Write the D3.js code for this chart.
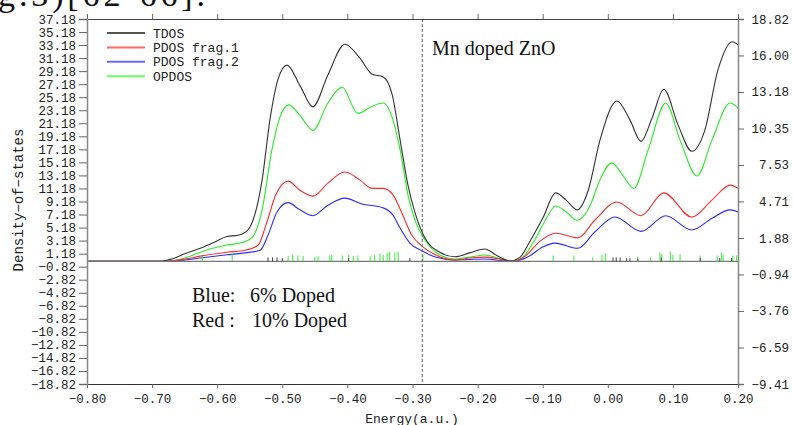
<!DOCTYPE html>
<html lang="en">
<head>
<meta charset="UTF-8">
<title>Mn doped ZnO DOS</title>
<script src="https://d3js.org/d3.v7.min.js"></script>
<style>
  body { margin: 0; padding: 0; background: white; }
  svg { display: block; }
  .tick text { font-family: 'Liberation Mono', monospace; font-size: 12.5px; fill: #222; }
  .mono { font-family: 'Liberation Mono', monospace; fill: #222; }
  .serif { font-family: 'Liberation Serif', 'Times New Roman', serif; fill: #111; }
</style>
</head>
<body>
<div id="chart"></div>
<script>
// x range and tick labels
const energyDomain = [-0.80, 0.20];
const energyTicks = [-0.80, -0.70, -0.60, -0.50, -0.40, -0.30, -0.20, -0.10, 0.00, 0.10, 0.20];
const leftTicks = d3.range(29).map(i => -18.82 + 2 * i);
const rightTicks = [-9.41, -6.59, -3.76, -0.94, 1.88, 4.71, 7.53, 10.35, 13.18, 16.00, 18.82];
const homoLevel = -0.285;

// curves, [energy, density] in left-axis units
const tdos = [[-0.80,0],[-0.688,0],[-0.672,0.3],[-0.649,1.2],[-0.626,2.0],[-0.603,3.0],[-0.585,3.8],[-0.568,4.0],
  [-0.553,4.8],[-0.531,12.5],[-0.519,21.7],[-0.507,27.8],[-0.493,30.1],[-0.473,27.0],[-0.453,23.7],[-0.430,28.6],
  [-0.404,33.3],[-0.381,31.2],[-0.362,28.7],[-0.345,28.3],[-0.331,25.5],[-0.319,18.6],[-0.307,11.7],[-0.295,7.1],
  [-0.281,3.6],[-0.258,1.4],[-0.235,0.7],[-0.212,1.3],[-0.189,1.9],[-0.169,0.8],[-0.150,0.05],[-0.135,0.6],
  [-0.120,3.0],[-0.100,6.6],[-0.080,10.5],[-0.064,9.4],[-0.047,7.9],[-0.030,10.9],[-0.012,18.6],[0.014,24.6],
  [0.034,21.7],[0.051,18.4],[0.068,22.0],[0.086,26.4],[0.108,20.9],[0.129,16.9],[0.149,20.1],[0.169,29.3],
  [0.191,33.7],[0.200,33.2]];
const pdosFrag1 = [[-0.80,0],[-0.680,0],[-0.649,0.35],[-0.626,0.8],[-0.585,1.4],[-0.557,1.7],[-0.537,2.5],
  [-0.525,5.6],[-0.510,10.2],[-0.491,12.3],[-0.473,10.9],[-0.453,10.0],[-0.430,12.0],[-0.404,13.7],[-0.381,12.5],
  [-0.362,11.2],[-0.345,11.2],[-0.330,10.2],[-0.315,7.1],[-0.301,4.0],[-0.285,2.3],[-0.265,1.0],[-0.235,0.2],
  [-0.212,0.5],[-0.189,0.65],[-0.166,0.35],[-0.147,0],[-0.127,0.8],[-0.104,3.1],[-0.080,4.3],[-0.046,3.6],
  [-0.020,6.3],[0.014,9.1],[0.051,7.0],[0.086,10.5],[0.129,6.8],[0.160,9.4],[0.188,11.7],[0.200,11.2]];
const pdosFrag2 = [[-0.80,0],[-0.680,0],[-0.649,0.2],[-0.626,0.5],[-0.585,1.0],[-0.557,1.3],[-0.534,1.7],
  [-0.522,4.0],[-0.508,7.6],[-0.491,9.0],[-0.473,7.9],[-0.453,7.0],[-0.430,8.6],[-0.404,9.7],[-0.378,8.8],
  [-0.345,8.2],[-0.330,7.1],[-0.319,5.1],[-0.304,2.8],[-0.285,1.6],[-0.265,0.65],[-0.235,0.2],[-0.189,0.35],
  [-0.147,0],[-0.123,0.65],[-0.100,2.2],[-0.081,2.8],[-0.046,2.0],[-0.020,4.5],[0.011,6.8],[0.051,4.6],
  [0.089,7.0],[0.129,4.8],[0.160,6.6],[0.188,7.9],[0.200,7.6]];
const opdos = [[-0.80,0],[-0.680,0],[-0.649,0.5],[-0.626,1.4],[-0.585,2.5],[-0.565,2.8],[-0.547,3.6],
  [-0.531,7.9],[-0.516,17.1],[-0.504,22.0],[-0.490,24.0],[-0.473,22.4],[-0.453,20.1],[-0.430,24.3],[-0.408,26.7],
  [-0.384,22.7],[-0.362,23.8],[-0.345,24.3],[-0.330,21.7],[-0.319,17.1],[-0.307,10.2],[-0.295,6.0],[-0.281,3.3],
  [-0.258,0.97],[-0.235,0.35],[-0.212,0.65],[-0.189,0.97],[-0.169,0.5],[-0.147,0],[-0.132,0.5],[-0.112,3.3],
  [-0.096,6.3],[-0.080,8.5],[-0.064,7.6],[-0.047,6.3],[-0.027,8.6],[-0.012,12.5],[0.006,15.1],[0.023,13.2],
  [0.040,11.2],[0.062,17.1],[0.089,24.3],[0.111,18.6],[0.137,13.1],[0.160,18.6],[0.188,24.3],[0.200,23.5]];

// eigenvalue sticks, [energy, height]
const greenSticks = [[-0.623,0.9],[-0.577,1.2],[-0.491,0.8],[-0.484,1.0],[-0.476,0.9],[-0.468,0.8],[-0.450,0.7],
  [-0.445,0.8],[-0.427,0.9],[-0.424,1.0],[-0.408,0.9],[-0.398,1.0],[-0.391,0.8],[-0.384,0.9],[-0.365,0.8],
  [-0.358,1.0],[-0.350,1.2],[-0.345,1.0],[-0.339,1.3],[-0.335,1.5],[-0.327,1.4],[-0.322,1.5],[-0.284,1.1],
  [-0.084,0.9],[-0.052,0.9],[-0.023,0.6],[-0.009,1.0],[-0.004,1.2],[0.046,0.7],[0.066,0.6],[0.080,1.4],
  [0.083,1.1],[0.096,1.5],[0.100,1.0],[0.111,1.1],[0.142,0.9],[0.168,0.9],[0.175,1.4],[0.177,1.0],[0.192,0.9],[0.198,0.9]];
const blackSticks = [[-0.522,0.6],[-0.515,0.6],[-0.508,0.6],[-0.500,0.5],[-0.398,0.5],[-0.304,0.5],[0.008,0.6],
  [0.013,0.6],[0.019,0.6],[0.029,0.5],[0.034,0.5],[0.046,0.4],[0.082,0.6],[0.142,0.5],[0.172,0.5],[0.190,0.5]];

const series = [
  {name: "TDOS", data: tdos, color: "#333333", key: "#555555"},
  {name: "PDOS frag.1", data: pdosFrag1, color: "#ff2a2a", key: "#ff6a6a"},
  {name: "PDOS frag.2", data: pdosFrag2, color: "#2a2aff", key: "#6a6aff"},
  {name: "OPDOS", data: opdos, color: "#22ee22", key: "#66ff66"}
];

const width = 793, height = 425;
const plot = {left: 87, right: 738, top: 19, bottom: 384};

const svg = d3.select("#chart").append("svg")
  .attr("width", width).attr("height", height);

const x = d3.scaleLinear().domain(energyDomain).range([plot.left, plot.right]);
const y = d3.scaleLinear().domain([-18.82, 37.18]).range([plot.bottom, plot.top]);
const yRight = d3.scaleLinear().domain([-9.41, 18.82]).range([plot.bottom, plot.top]);

// clipped caption from the page above
svg.append("text").attr("class", "serif")
  .attr("x", -2).attr("y", 6)
  .attr("textLength", 207)
  .style("font-size", "34px")
  .text("g.3)[62-66].");

// curves
const line = d3.line()
  .x(d => x(d[0]))
  .y(d => y(d[1]))
  .curve(d3.curveMonotoneX);

svg.append("g").selectAll("path")
  .data(series.slice().reverse())
  .join("path")
  .attr("d", d => line(d.data))
  .attr("fill", "none")
  .attr("stroke", d => d.color)
  .attr("stroke-width", 1.1);

// zero line
svg.append("line")
  .attr("x1", plot.left).attr("x2", plot.right)
  .attr("y1", y(0)).attr("y2", y(0))
  .attr("stroke", "#777").attr("stroke-width", 1.2);

// sticks
svg.append("g").selectAll("line")
  .data(greenSticks)
  .join("line")
  .attr("x1", d => x(d[0])).attr("x2", d => x(d[0]))
  .attr("y1", y(0)).attr("y2", d => y(d[1]))
  .attr("stroke", "#33ee33").attr("stroke-width", 1);

svg.append("g").selectAll("line")
  .data(blackSticks)
  .join("line")
  .attr("x1", d => x(d[0])).attr("x2", d => x(d[0]))
  .attr("y1", y(0)).attr("y2", d => y(d[1]))
  .attr("stroke", "#444").attr("stroke-width", 1);

// HOMO dashed line
svg.append("line")
  .attr("x1", x(homoLevel)).attr("x2", x(homoLevel))
  .attr("y1", plot.top).attr("y2", plot.bottom)
  .attr("stroke", "#666").attr("stroke-width", 1)
  .attr("stroke-dasharray", "3,2");

// axes
const fmt = d3.format(".2f");

const bottomAxis = svg.append("g")
  .attr("transform", `translate(0,${plot.bottom})`)
  .call(d3.axisBottom(x).tickValues(energyTicks).tickFormat(fmt).tickSize(4).tickPadding(6));
bottomAxis.select(".domain").attr("stroke", "#333");

const topAxis = svg.append("g")
  .attr("transform", `translate(0,${plot.top})`)
  .call(d3.axisTop(x).tickValues(energyTicks).tickFormat("").tickSize(5));
topAxis.select(".domain").attr("stroke", "#444");

const leftAxis = svg.append("g")
  .attr("transform", `translate(${plot.left},0)`)
  .call(d3.axisLeft(y).tickValues(leftTicks).tickFormat(fmt).tickSize(8).tickPadding(3));
leftAxis.select(".domain").attr("stroke", "#888").attr("stroke-width", 1.5);

const rightAxis = svg.append("g")
  .attr("transform", `translate(${plot.right},0)`)
  .call(d3.axisRight(yRight).tickValues(rightTicks).tickFormat(fmt).tickSize(6));
rightAxis.select(".domain").attr("stroke", "#888").attr("stroke-width", 1.5);
rightAxis.selectAll(".tick text").attr("text-anchor", "end").attr("x", 51);

svg.selectAll(".tick line").attr("stroke", "#666");
svg.selectAll(".domain").attr("fill", "none");

// axis titles
svg.append("text").attr("class", "mono")
  .attr("transform", "translate(23,200) rotate(-90)")
  .attr("text-anchor", "middle")
  .style("font-size", "14px")
  .text("Density\u2212of\u2212states");

svg.append("text").attr("class", "mono")
  .attr("x", 412).attr("y", 423)
  .attr("text-anchor", "middle")
  .style("font-size", "13px")
  .text("Energy(a.u.)");

// legend
const legend = svg.append("g").attr("transform", "translate(107,33)");
const entry = legend.selectAll("g")
  .data(series)
  .join("g")
  .attr("transform", (d, i) => `translate(0,${i * 14.4})`);
entry.append("line")
  .attr("x1", 0).attr("x2", 38)
  .attr("stroke", d => d.key).attr("stroke-width", 2);
entry.append("text").attr("class", "mono")
  .attr("x", 46).attr("y", 4.5)
  .style("font-size", "13px")
  .text(d => d.name);

// annotations
svg.append("text").attr("class", "serif")
  .attr("x", 432).attr("y", 55)
  .style("font-size", "20px")
  .text("Mn doped ZnO");

svg.append("text").attr("class", "serif")
  .attr("x", 192).attr("y", 302)
  .style("font-size", "20px")
  .text("Blue:");
svg.append("text").attr("class", "serif")
  .attr("x", 250).attr("y", 302)
  .style("font-size", "20px")
  .text("6% Doped");
svg.append("text").attr("class", "serif")
  .attr("x", 192).attr("y", 327)
  .style("font-size", "20px")
  .text("Red :");
svg.append("text").attr("class", "serif")
  .attr("x", 252).attr("y", 327)
  .style("font-size", "20px")
  .text("10% Doped");
</script>
</body>
</html>
